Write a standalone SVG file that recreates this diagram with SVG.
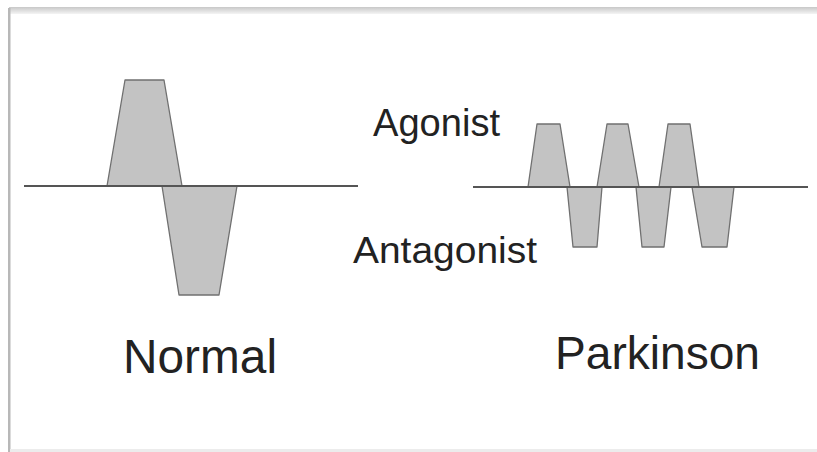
<svg xmlns="http://www.w3.org/2000/svg" width="817" height="452" viewBox="0 0 817 452">
<defs>
<linearGradient id="topg" x1="0" y1="0" x2="0" y2="1">
<stop offset="0" stop-color="#c8c8c8"/>
<stop offset="1" stop-color="#f4f4f4"/>
</linearGradient>
</defs>
<style>
.pulse{fill:#c3c3c3;stroke:#707070;stroke-width:1.3;stroke-linejoin:round}
.axis{stroke:#555;stroke-width:2;fill:none}
.lbl{font-family:"Liberation Sans",Arial,sans-serif;fill:#222}
</style>
<rect x="0" y="0" width="817" height="452" fill="#fff"/>
<g id="frame">
<rect x="9" y="7" width="808" height="7" fill="url(#topg)"/>
<rect x="8" y="8" width="2.5" height="444" fill="#b8b8b8"/>
<rect x="10" y="449" width="807" height="3" fill="#ececec"/>
</g>
<g id="normal">
<polygon class="pulse" points="107,186 125,80 164,80 182,186"/>
<polygon class="pulse" points="162,186 237,186 219,295 179,295"/>
<line class="axis" x1="24" y1="186" x2="358" y2="186"/>
</g>
<g id="parkinson">
<polygon class="pulse" points="528,187 537,124 560,124 570,187"/>
<polygon class="pulse" points="597,187 607,124 628,124 639,187"/>
<polygon class="pulse" points="659,187 668,124 690,124 699,187"/>
<polygon class="pulse" points="567,187 602,187 597,247 573,247"/>
<polygon class="pulse" points="636,187 671,187 664,247 642,247"/>
<polygon class="pulse" points="692,187 734,187 727,247 702,247"/>
<line class="axis" x1="473" y1="187" x2="808" y2="187"/>
</g>
<g id="labels">
<text class="lbl" x="373" y="136" font-size="38" textLength="127" lengthAdjust="spacingAndGlyphs">Agonist</text>
<text class="lbl" x="353" y="263" font-size="37" textLength="184" lengthAdjust="spacingAndGlyphs">Antagonist</text>
<text class="lbl" x="123" y="373" font-size="48" textLength="154" lengthAdjust="spacingAndGlyphs">Normal</text>
<text class="lbl" x="555" y="369" font-size="47" textLength="205" lengthAdjust="spacingAndGlyphs">Parkinson</text>
</g>
</svg>
